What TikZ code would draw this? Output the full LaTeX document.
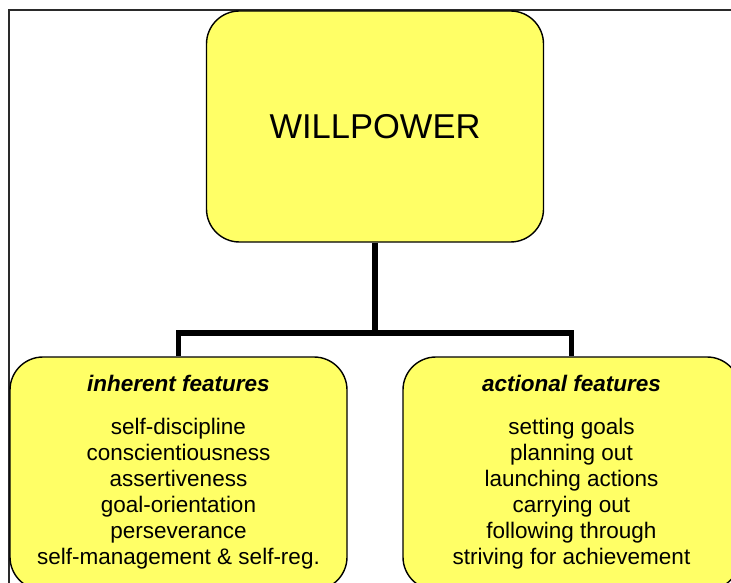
\documentclass[tikz,border=0pt]{standalone}
\usepackage{fontspec}
\setmainfont{Liberation Sans}
\definecolor{boxfill}{HTML}{FFFF66}
\definecolor{framegray}{HTML}{2A2A2A}
\begin{document}
\begin{tikzpicture}[x=1pt,y=-1pt,
  box/.style={draw=black, line width=1.4pt, fill=boxfill, rounded corners=33pt,
    inner sep=0pt},
  topbox/.style={box, minimum width=337pt, minimum height=231pt,
    font=\fontsize{34.5}{40}\selectfont},
  childbox/.style={box, minimum width=337pt, minimum height=233pt},
  heading/.style={font=\fontsize{22.5}{26}\selectfont\bfseries\itshape, inner sep=0pt},
  items/.style={font=\fontsize{22.5}{26}\selectfont, align=center, inner sep=0pt},
  conn/.style={draw=black, line width=5.5pt, line join=miter},
  frame/.style={draw=framegray, line width=2pt}]
  \useasboundingbox (0,0) rectangle (731,583);
  \clip (0,0) rectangle (731,583);
  \fill[white] (0,0) rectangle (731,583);

  % outer frame, running off the page to the right and bottom
  \draw[frame] (9.3,700) -- (9.3,10) -- (800,10);

  % boxes
  \node[topbox] (will) at (375,126.5) {WILLPOWER};
  \node[childbox] (inh) at (178.5,473.5) {};
  \node[childbox] (act) at (571.5,473.5) {};

  % texts inside the two feature boxes
  \node[heading] (inhhead) at (178.5,383) {inherent features};
  \node[items] (inhlist) at (178.5,494) {self-discipline\\conscientiousness\\assertiveness\\goal-orientation\\perseverance\\self-management \& self-reg.};
  \node[heading] (acthead) at (571.5,383) {actional features};
  \node[items] (actlist) at (571.5,494) {setting goals\\planning out\\launching actions\\carrying out\\following through\\striving for achievement};

  % tree connectors
  \coordinate (split) at (375,333);
  \draw[conn] (will.south) -- (split);
  \draw[conn] (inh.north) -- (inh.north |- split) -- (act.north |- split) -- (act.north);
\end{tikzpicture}
\end{document}
